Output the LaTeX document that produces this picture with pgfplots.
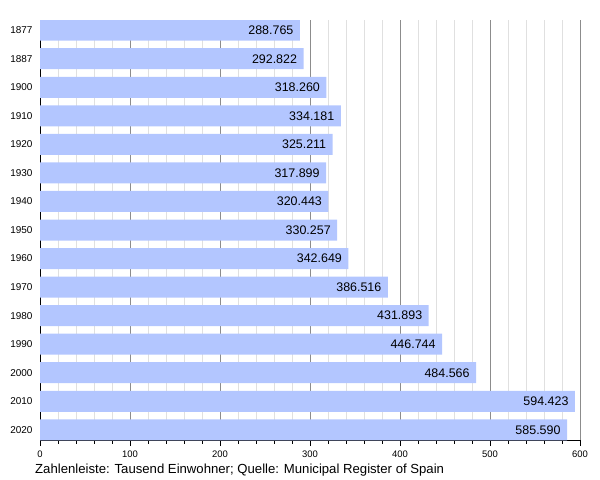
\documentclass[border=0pt]{standalone}
\usepackage{fontspec}
\setmainfont{Liberation Sans}
\usepackage{pgfplots}
\pgfplotsset{compat=1.18}
\definecolor{barblue}{HTML}{B3C6FF}
\begin{document}
\begin{tikzpicture}
\begin{axis}[
    at={(0,0)}, anchor=south west,
    scale only axis=true,
    width=540bp, height=420bp,
    xbar, bar width=21bp,
    y dir=reverse,
    xmin=0, xmax=600,
    ymin=-0.357, ymax=14.357,
    ytick={0,...,14},
    yticklabels={1877,1887,1900,1910,1920,1930,1940,1950,1960,1970,1980,1990,2000,2010,2020},
    xtick={0,100,...,600},
    minor x tick num=4,
    xmajorgrids, xminorgrids,
    major grid style={draw=black!45, line width=0.8bp},
    minor grid style={draw=black!12, line width=0.8bp},
    axis x line*=bottom, axis y line*=left,
    axis line style={-, black, line width=0.8bp},
    tick align=outside,
    major tick length=6bp, minor tick length=3.5bp,
    ytick style={draw=none},
    xtick style={black, line width=0.8bp},
    xticklabel style={font=\fontsize{9.5}{11}\selectfont, yshift=-1bp},
    yticklabel style={font=\fontsize{10}{12}\selectfont, xshift=2bp},
    /pgf/number format/assume math mode=true,
    point meta=explicit symbolic,
    nodes near coords,
    every node near coord/.append style={anchor=east, xshift=-3bp,
        font=\fontsize{12.5}{14}\selectfont, text=black},
]
\addplot[fill=barblue, draw=none] coordinates {
    (288.765,0) [288.765]
    (292.822,1) [292.822]
    (318.260,2) [318.260]
    (334.181,3) [334.181]
    (325.211,4) [325.211]
    (317.899,5) [317.899]
    (320.443,6) [320.443]
    (330.257,7) [330.257]
    (342.649,8) [342.649]
    (386.516,9) [386.516]
    (431.893,10) [431.893]
    (446.744,11) [446.744]
    (484.566,12) [484.566]
    (594.423,13) [594.423]
    (585.590,14) [585.590]
};
\end{axis}
\node[anchor=west, font=\fontsize{13.2}{15}\selectfont, inner sep=0pt] at (-5bp,-30bp)
    {Zahlenleiste: Tausend Einwohner; Quelle: Municipal Register of Spain};
\path[use as bounding box] (-40bp,-40bp) rectangle (560bp,440bp);
\end{tikzpicture}
\end{document}
